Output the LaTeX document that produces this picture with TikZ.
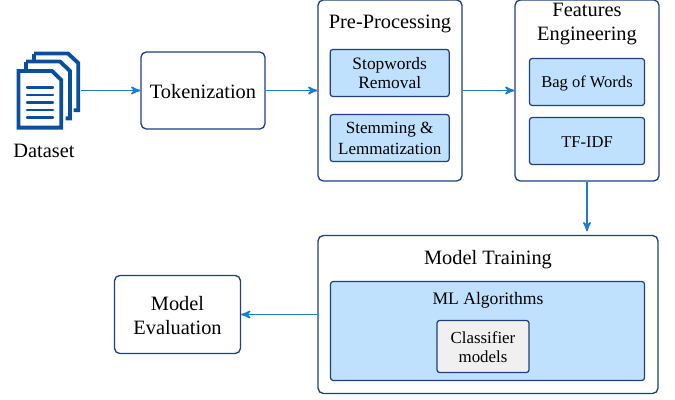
\documentclass[tikz,border=0pt]{standalone}
\usepackage{fontspec}
\setmainfont{Liberation Serif}
\usepackage{tikz}
\usetikzlibrary{arrows}

\definecolor{boxline}{HTML}{1F3F7F}
\definecolor{boxfill}{HTML}{BFE1FD}
\definecolor{flowline}{HTML}{1A7CCB}
\definecolor{pageblue}{HTML}{0A4F9E}
\definecolor{modelgray}{HTML}{F0F0F0}

\tikzset{
    whitebox/.style={draw=boxline, line width=0.75pt, rounded corners=3pt, fill=white, align=center, inner sep=0pt, font=\fontsize{11.6}{13.2}\selectfont},
    bluebox/.style={draw=boxline, line width=0.7pt, rounded corners=1.5pt, fill=boxfill, align=center, inner sep=0pt, font=\fontsize{9.7}{10.8}\selectfont},
    graybox/.style={bluebox, fill=modelgray},
    boxtitle/.style={align=center, inner sep=0pt, font=\fontsize{11.6}{13.2}\selectfont},
    smalltitle/.style={align=center, inner sep=0pt, font=\fontsize{9.7}{10.8}\selectfont},
    flow/.style={draw=flowline, line width=0.9pt, ->, >=stealth'},
    pageline/.style={draw=pageblue, line width=2.2pt, line join=miter}
}

\begin{document}
\begin{tikzpicture}[x=0.02cm, y=-0.02cm]

        \useasboundingbox (0,0) rectangle (675,399);

        % dataset icon
        \draw [pageline] (34,53.5) -- (68,53.5) -- (78.2,63) -- (78.2,110.3) -- (73.5,110.3);
        \draw [pageline] (34,53.5) -- (34,60);
        \draw [pageline] (26,61.5) -- (60,61.5) -- (70,71) -- (70,118.4) -- (65.5,118.4);
        \draw [pageline] (26,61.5) -- (26,69);
        \draw [pageline, fill=white] (18.5,71) -- (52,71) -- (61.3,80) -- (61.3,127.6) -- (18.5,127.6) -- cycle;
        \foreach \y in {87.5,95,102.5,110,117.5}
            \draw [draw=pageblue, line width=1.3pt, line cap=round] (27,\y) -- (53,\y);
        \coordinate (icon) at (81,90.5);
        \node [boxtitle] (dataset) at (44,151) {Dataset};

        % upper row
        \node [whitebox, minimum width=2.48cm, minimum height=1.54cm] (tokenization) at (203,90.5) {};
        \node [boxtitle] (tokenizationtitle) at (203,92) {Tokenization};

        \node [whitebox, minimum width=2.88cm, minimum height=3.62cm] (preprocessing) at (390,90.5) {};
        \node [boxtitle] (pretitle) at (390,24) {Pre-Processing};
        \node [bluebox, minimum width=2.38cm, minimum height=0.94cm] (stopwords) at (389.7,73) {};
        \node [smalltitle, font=\fontsize{9.9}{10.8}\selectfont] (stopwordstitle) at (389.7,73) {Stopwords\\Removal};
        \node [bluebox, minimum width=2.38cm, minimum height=0.94cm] (stemming) at (389.7,138) {};
        \node [smalltitle, font=\fontsize{9.7}{11.6}\selectfont] (stemmingtitle) at (389.7,138.5) {Stemming \&\\Lemmatization};

        \node [whitebox, minimum width=2.88cm, minimum height=3.62cm] (features) at (587,90.5) {};
        \node [boxtitle] (featurestitle) at (587,24) {Features\\Engineering};
        \node [bluebox, minimum width=2.3cm, minimum height=0.94cm] (bagofwords) at (587,82) {};
        \node [smalltitle, font=\fontsize{9.4}{10.8}\selectfont] (bagofwordstitle) at (587,83) {Bag of Words};
        \node [bluebox, minimum width=2.3cm, minimum height=0.94cm] (tfidf) at (587,141) {};
        \node [smalltitle, font=\fontsize{9.4}{10.8}\selectfont] (tfidftitle) at (587,142) {TF-IDF};

        % lower row
        \node [whitebox, minimum width=6.8cm, minimum height=3.16cm] (training) at (488,314.5) {};
        \node [boxtitle] (trainingtitle) at (488,260) {Model Training};
        \node [bluebox, minimum width=6.28cm, minimum height=1.98cm] (algorithms) at (487.5,331) {};
        \node [smalltitle, font=\fontsize{10}{12}\selectfont] (algorithmstitle) at (488,300) {ML Algorithms};
        \node [graybox, minimum width=1.84cm, minimum height=1.04cm] (classifier) at (483,346.5) {};
        \node [smalltitle, font=\fontsize{9.6}{10.8}\selectfont] (classifiertitle) at (483,347.5) {Classifier\\models};

        \node [whitebox, minimum width=2.52cm, minimum height=1.56cm] (evaluation) at (177.5,314.5) {};
        \node [boxtitle] (evaluationtitle) at (177.5,315.5) {Model\\Evaluation};

        % connectors
        \draw [flow] (icon) -- (tokenization.west |- icon);
        \draw [flow] (tokenization) -- (preprocessing);
        \draw [flow] (preprocessing) -- (features);
        \draw [flow, shorten >=2pt] (features) -- (features |- training.north);
        \draw [flow] (training) -- (evaluation);

\end{tikzpicture}
\end{document}
